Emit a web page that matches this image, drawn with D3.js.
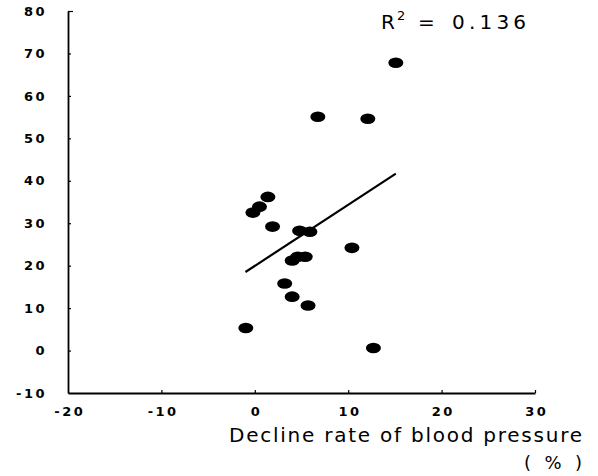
<!DOCTYPE html>
<html>
<head>
<meta charset="utf-8">
<script src="https://cdn.jsdelivr.net/npm/d3@7/dist/d3.min.js"></script>
<style>
  html, body { margin: 0; padding: 0; background: #fff; }
  svg { display: block; }
</style>
</head>
<body>
<svg id="chart" width="598" height="476"></svg>
<script>
// ---- data ----
const declineRate = [15.1, 6.75, 12.1, 1.4, 0.5, -0.2, 1.9, 4.8, 5.9, 10.4, 5.4, 4.6, 4.0, 3.2, 4.0, 5.7, -0.96, 12.7];
const yValues     = [67.8, 55.1, 54.6, 36.2, 33.9, 32.5, 29.2, 28.2, 28.0, 24.2, 22.1, 22.1, 21.2, 15.8, 12.7, 10.6, 5.3, 0.6];
const fitX = [-1.0, 15.1];
const fitY = [18.5, 41.7];
const xTicks = [-20, -10, 0, 10, 20, 30];
const yTicks = [-10, 0, 10, 20, 30, 40, 50, 60, 70, 80];
const xTitle = "Decline rate of blood pressure";
const xUnit = "(%)";
const r2Label = "0.136";

// ---- drawing ----
const svg = d3.select("#chart");
const x = d3.scaleLinear().domain([-20, 30]).range([68, 535]);
const y = d3.scaleLinear().domain([-10, 80]).range([393, 11]);

const tickFont = "'DejaVu Sans', sans-serif";
const fmt = d => String(d);

const xAxis = svg.append("g")
  .attr("transform", `translate(0,${y(-10)})`)
  .call(d3.axisBottom(x).tickValues(xTicks).tickFormat(fmt).tickSizeInner(-3).tickSizeOuter(0).tickPadding(14));
const yAxis = svg.append("g")
  .attr("transform", `translate(${x(-20)},0)`)
  .call(d3.axisLeft(y).tickValues(yTicks).tickFormat(fmt).tickSizeInner(-3).tickSizeOuter(0).tickPadding(21));

[xAxis, yAxis].forEach(g => {
  g.select(".domain").attr("stroke", "#000").attr("stroke-width", 1.8);
  g.selectAll(".tick line").attr("stroke", "#000").attr("stroke-width", 1.2);
  g.selectAll(".tick text")
    .attr("fill", "#000")
    .style("font-family", tickFont)
    .style("font-weight", "bold")
    .style("font-size", "13px")
    .style("letter-spacing", "2.5px");
});
xAxis.selectAll(".tick text").attr("dx", "1.25px");
xAxis.selectAll(".tick").filter(d => d === -20).select("line").remove();
yAxis.selectAll(".tick").filter(d => d === -10).select("line").remove();
yAxis.selectAll(".tick").filter(d => d === 80).select("line").attr("x2", 5);

// regression line
svg.append("path")
  .datum(fitX.map((v, i) => [v, fitY[i]]))
  .attr("fill", "none")
  .attr("stroke", "#000")
  .attr("stroke-width", 2.2)
  .attr("d", d3.line().x(d => x(d[0])).y(d => y(d[1])));

// points
svg.append("g").selectAll("ellipse")
  .data(declineRate.map((v, i) => [v, yValues[i]]))
  .join("ellipse")
  .attr("cx", d => x(d[0]))
  .attr("cy", d => y(d[1]))
  .attr("rx", 7.5)
  .attr("ry", 5.3)
  .attr("fill", "#000");

// R^2 label
const r2 = svg.append("text")
  .attr("y", 29)
  .style("font-family", "'DejaVu Sans', sans-serif")
  .style("font-size", "20px")
  .attr("fill", "#000");
r2.append("tspan").attr("x", 381).text("R");
r2.append("tspan").attr("x", 397).attr("dy", -9).style("font-size", "13px").text("2");
r2.append("tspan").attr("x", 418).attr("dy", 9).text("=");
r2.append("tspan").attr("x", 452).style("letter-spacing", "4.2px").text(r2Label);

// axis titles
svg.append("text")
  .attr("x", 229).attr("y", 442)
  .attr("textLength", 353).attr("lengthAdjust", "spacing")
  .style("font-family", "'DejaVu Sans', sans-serif")
  .style("font-size", "20px")
  .attr("fill", "#000")
  .text(xTitle);
svg.append("text")
  .attr("x", 524).attr("y", 469)
  .attr("textLength", 58).attr("lengthAdjust", "spacing")
  .style("font-family", "'DejaVu Sans', sans-serif")
  .style("font-size", "18px")
  .attr("fill", "#000")
  .text(xUnit);
</script>
</body>
</html>
